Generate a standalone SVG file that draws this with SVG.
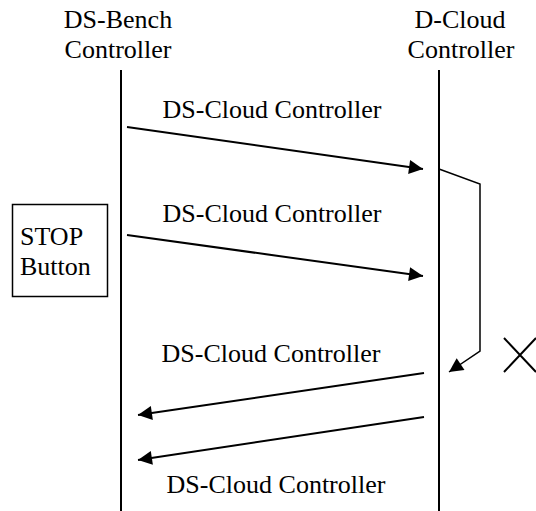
<svg xmlns="http://www.w3.org/2000/svg" width="536" height="511" viewBox="0 0 536 511">
<style>
.l{stroke:#000;stroke-width:2;fill:none}
.t{stroke:#000;stroke-width:1.5;fill:none}
</style>
<defs>
<marker id="ah" viewBox="0 0 10 10" refX="10" refY="5" markerWidth="20" markerHeight="14" markerUnits="userSpaceOnUse" orient="auto">
<path d="M0,0L10,5L0,10z" fill="#000"/>
</marker>
</defs>
<rect width="536" height="511" fill="#fff"/>
<g font-family="Liberation Serif, DejaVu Serif, serif" font-size="26" fill="#000">
<g id="bench">
<text x="118" y="28" text-anchor="middle">DS-Bench</text>
<text x="118" y="58" text-anchor="middle">Controller</text>
<line class="l" x1="121" y1="70" x2="121" y2="511"/>
</g>
<g id="cloud">
<text x="460" y="28" text-anchor="middle">D-Cloud</text>
<text x="461" y="58" text-anchor="middle">Controller</text>
<line class="l" x1="439" y1="70" x2="439" y2="511"/>
</g>
<g id="stop">
<rect class="t" x="12.5" y="204.5" width="95" height="92"/>
<text x="20" y="245">STOP</text>
<text x="20" y="275">Button</text>
</g>
<g id="cross">
<path class="l" d="M504,338L536,372M504,372L536,338"/>
</g>
<g id="connectors">
<line class="l" x1="127" y1="127" x2="423" y2="169" marker-end="url(#ah)"/>
<line class="l" x1="127" y1="235" x2="423" y2="276" marker-end="url(#ah)"/>
<line class="l" x1="424" y1="373" x2="138" y2="415" marker-end="url(#ah)"/>
<line class="l" x1="424" y1="417" x2="138" y2="460" marker-end="url(#ah)"/>
<polyline class="t" points="439,169 480,184 480,351 449,372" marker-end="url(#ah)"/>
</g>
<g id="labels">
<text x="272" y="118" text-anchor="middle">DS-Cloud Controller</text>
<text x="272" y="222" text-anchor="middle">DS-Cloud Controller</text>
<text x="271" y="362" text-anchor="middle">DS-Cloud Controller</text>
<text x="276" y="493" text-anchor="middle">DS-Cloud Controller</text>
</g>
</g>
</svg>
